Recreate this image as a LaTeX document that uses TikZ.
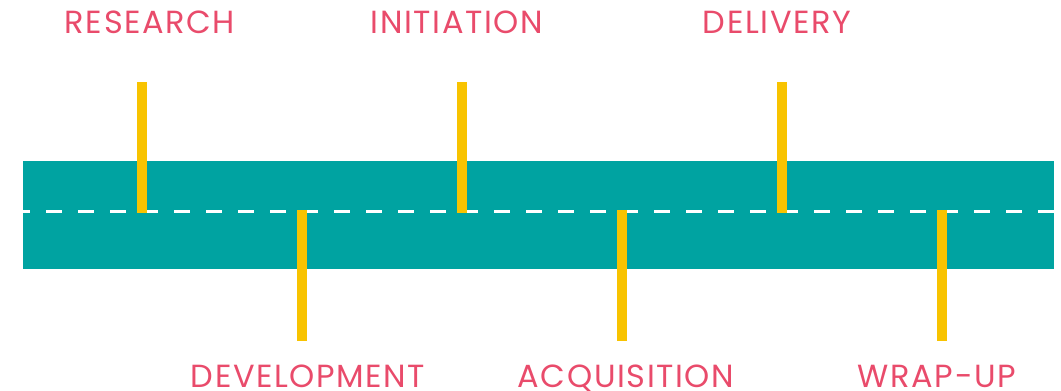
\documentclass[tikz,border=0pt]{standalone}
\usepackage{fontspec}
\setmainfont{Poppins}[LetterSpace=5]
\usetikzlibrary{positioning}
\definecolor{bandteal}{HTML}{00A3A1}
\definecolor{markeryellow}{HTML}{F8C300}
\definecolor{labelred}{HTML}{E94B6B}
\begin{document}
\begin{tikzpicture}[x=1pt,y=-1pt,
                     phase label/.style={text=labelred,font=\fontsize{32}{32}\selectfont,anchor=base,inner sep=0pt},
                     marker/.style={draw=markeryellow,line width=10pt}
                    ]
   \useasboundingbox (0,0) rectangle (1061,391);
   % band and centre line
   \fill[bandteal] (23,161) rectangle (1054,269);
   \coordinate (mid left) at (23,211);
   \coordinate (mid right) at (1054,211);
   \draw[white,line width=3pt,dash pattern=on 16pt off 16pt,dash phase=9pt] (mid left) -- (mid right);
   % labels
   \node[phase label] (research) at (150,33) {RESEARCH};
   \node[phase label] (initiation) at (457,33) {INITIATION};
   \node[phase label] (delivery) at (777,33) {DELIVERY};
   \node[phase label] (development) at (308,387) {DEVELOPMENT};
   \node[phase label] (acquisition) at (626,387) {ACQUISITION};
   \node[phase label] (wrapup) at (937,387) {WRAP-UP};
   % marker ends
   \coordinate (r1) at (142,82);   \coordinate (r2) at (142,213);
   \coordinate (i1) at (462,82);   \coordinate (i2) at (462,213);
   \coordinate (d1) at (782,82);   \coordinate (d2) at (782,213);
   \coordinate (v1) at (302,210);  \coordinate (v2) at (302,341);
   \coordinate (a1) at (622,210);  \coordinate (a2) at (622,341);
   \coordinate (w1) at (942,210);  \coordinate (w2) at (942,341);
   \path%
     (r1) edge [marker] (r2)
     (i1) edge [marker] (i2)
     (d1) edge [marker] (d2)
     (v1) edge [marker] (v2)
     (a1) edge [marker] (a2)
     (w1) edge [marker] (w2);
\end{tikzpicture}
\end{document}
